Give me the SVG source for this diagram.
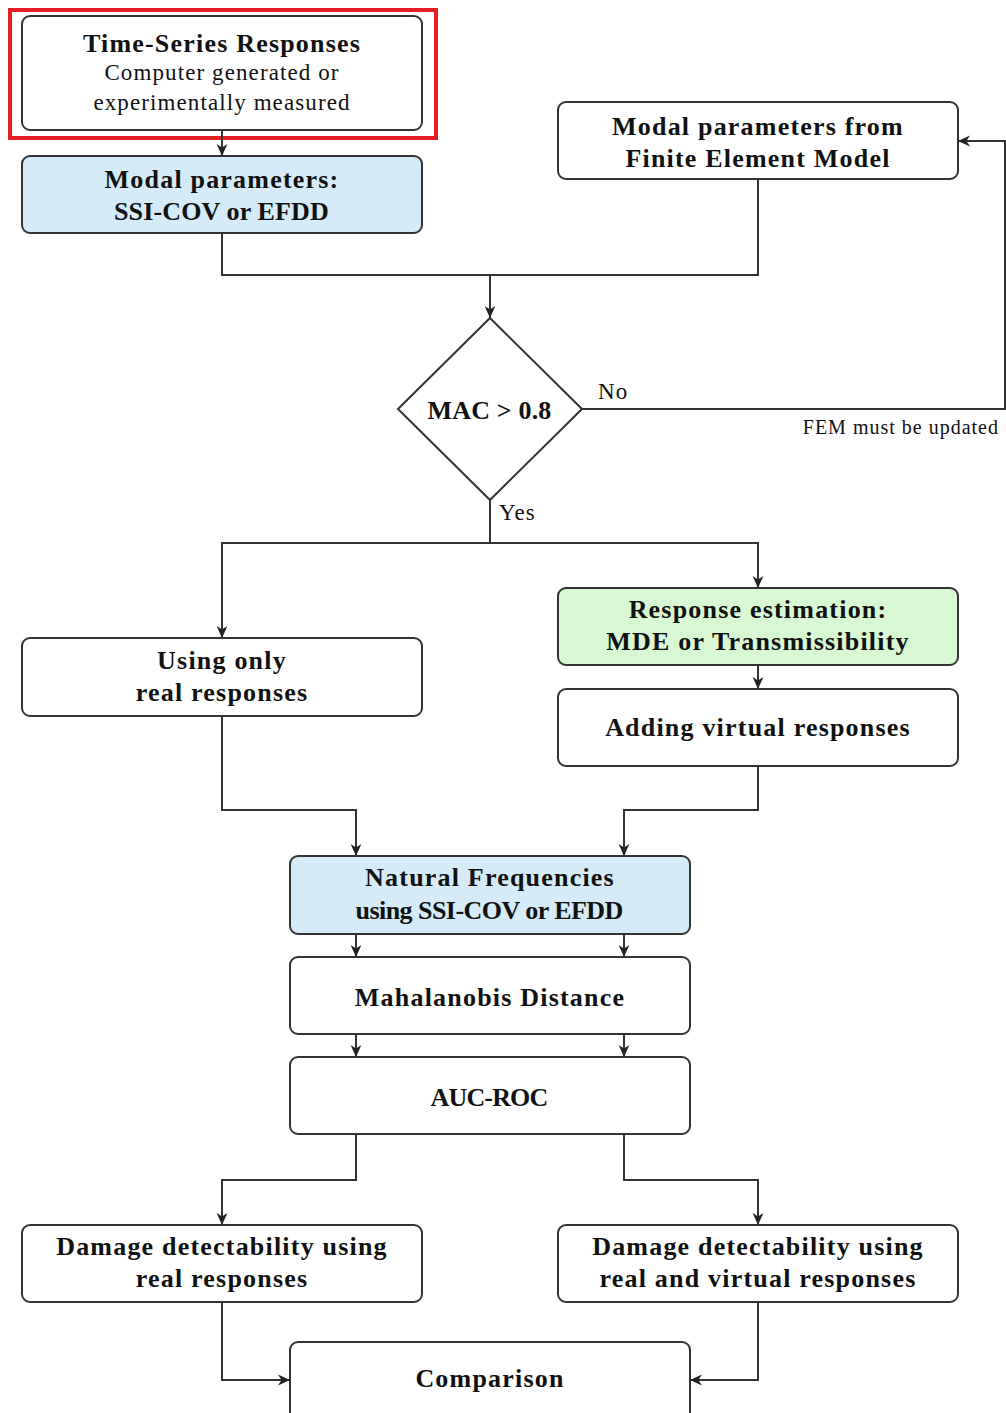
<svg xmlns="http://www.w3.org/2000/svg" width="1006" height="1413" viewBox="0 0 1006 1413">
<defs>
<marker id="arr" viewBox="0 0 10 10" refX="10" refY="5" markerWidth="12" markerHeight="12" markerUnits="userSpaceOnUse" orient="auto">
<path d="M0,0.5 L10,5 L0,9.5 L3,5 Z" fill="#222"/>
</marker>
<style>
.box{fill:#fff;stroke:#333;stroke-width:2}
.blue{fill:#d6ebf8}
.green{fill:#d8f7d3}
.t{font-family:"Liberation Serif",serif;font-weight:bold;font-size:26px;letter-spacing:1.2px;fill:#111;text-anchor:middle}
.n{font-family:"Liberation Serif",serif;font-size:23px;letter-spacing:1.1px;fill:#111;text-anchor:middle}
.c{fill:none;stroke:#333;stroke-width:2}
.a{marker-end:url(#arr)}
</style>
</defs>
<rect x="0" y="0" width="1006" height="1413" fill="#fff"/>
<rect x="10" y="10" width="426" height="128" fill="none" stroke="#e31e24" stroke-width="4"/>
<g id="connectors">
<path class="c a" d="M222,130 V156"/>
<path class="c" d="M222,233 V275 H758 V179"/>
<path class="c a" d="M490,275 V318"/>
<path class="c a" d="M582,409 H1005 V141 H958"/>
<path class="c" d="M490,500 V543"/>
<path class="c a" d="M490,543 H222 V638"/>
<path class="c a" d="M490,543 H758 V588"/>
<path class="c a" d="M758,665 V689"/>
<path class="c a" d="M222,716 V810 H356 V856"/>
<path class="c a" d="M758,766 V810 H624 V856"/>
<path class="c a" d="M356,934 V957"/>
<path class="c a" d="M624,934 V957"/>
<path class="c a" d="M356,1034 V1057"/>
<path class="c a" d="M624,1034 V1057"/>
<path class="c a" d="M356,1134 V1180 H222 V1225"/>
<path class="c a" d="M624,1134 V1180 H758 V1225"/>
<path class="c a" d="M222,1302 V1380 H290"/>
<path class="c a" d="M758,1302 V1380 H690"/>
<text class="n" x="598" y="399" style="text-anchor:start">No</text>
<text class="n" x="999" y="434" style="text-anchor:end;font-size:20px;letter-spacing:1px">FEM must be updated</text>
<text class="n" x="499" y="520" style="text-anchor:start">Yes</text>
</g>
<g id="n1"><rect class="box" x="22" y="16" width="400" height="114" rx="8"/>
<text class="t" x="222" y="52">Time-Series Responses</text>
<text class="n" x="222" y="80">Computer generated or</text>
<text class="n" x="222" y="110">experimentally measured</text></g>
<g id="n2"><rect class="box blue" x="22" y="156" width="400" height="77" rx="8"/>
<text class="t" x="222" y="188">Modal parameters:</text>
<text class="t" x="222" y="220" textLength="216" lengthAdjust="spacing">SSI-COV or EFDD</text></g>
<g id="n3"><rect class="box" x="558" y="102" width="400" height="77" rx="8"/>
<text class="t" x="758" y="135">Modal parameters from</text>
<text class="t" x="758" y="167">Finite Element Model</text></g>
<g id="n4"><path class="box" d="M490,318 L582,409 L490,500 L398,409 Z"/>
<text class="t" x="490" y="419" textLength="125" lengthAdjust="spacing">MAC &gt; 0.8</text></g>
<g id="n5"><rect class="box" x="22" y="638" width="400" height="78" rx="8"/>
<text class="t" x="222" y="669">Using only</text>
<text class="t" x="222" y="701">real responses</text></g>
<g id="n6"><rect class="box green" x="558" y="588" width="400" height="77" rx="8"/>
<text class="t" x="758" y="618">Response estimation:</text>
<text class="t" x="758" y="650">MDE or Transmissibility</text></g>
<g id="n7"><rect class="box" x="558" y="689" width="400" height="77" rx="8"/>
<text class="t" x="758" y="736">Adding virtual responses</text></g>
<g id="n8"><rect class="box blue" x="290" y="856" width="400" height="78" rx="8"/>
<text class="t" x="490" y="886">Natural Frequencies</text>
<text class="t" x="490" y="919" textLength="269" lengthAdjust="spacing">using SSI-COV or EFDD</text></g>
<g id="n9"><rect class="box" x="290" y="957" width="400" height="77" rx="8"/>
<text class="t" x="490" y="1006">Mahalanobis Distance</text></g>
<g id="n10"><rect class="box" x="290" y="1057" width="400" height="77" rx="8"/>
<text class="t" x="490" y="1106" textLength="119" lengthAdjust="spacing">AUC-ROC</text></g>
<g id="n11"><rect class="box" x="22" y="1225" width="400" height="77" rx="8"/>
<text class="t" x="222" y="1255">Damage detectability using</text>
<text class="t" x="222" y="1287">real responses</text></g>
<g id="n12"><rect class="box" x="558" y="1225" width="400" height="77" rx="8"/>
<text class="t" x="758" y="1255">Damage detectability using</text>
<text class="t" x="758" y="1287">real and virtual responses</text></g>
<g id="n13"><rect class="box" x="290" y="1342" width="400" height="90" rx="8"/>
<text class="t" x="490" y="1387">Comparison</text></g>
</svg>
